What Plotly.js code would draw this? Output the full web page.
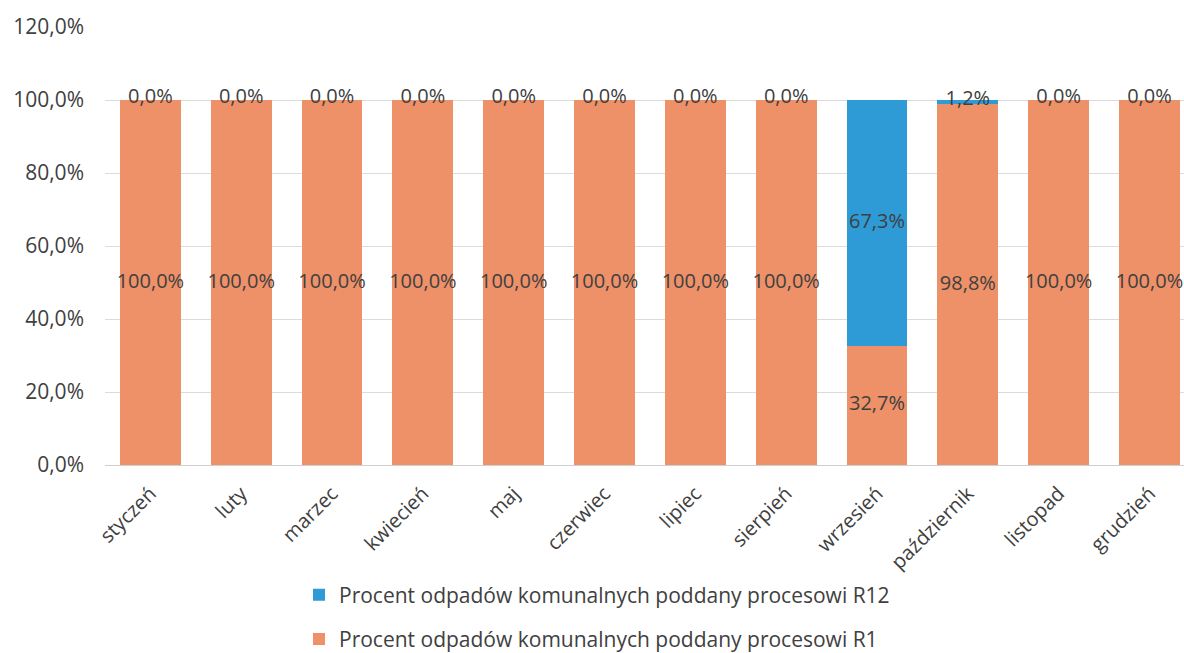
<!DOCTYPE html>
<html><head><meta charset="utf-8">
<script src="https://cdn.plot.ly/plotly-3.0.1.min.js"></script>
<style>html,body{margin:0;padding:0;background:#fff}</style>
</head><body>
<div id="chart" style="width:1184px;height:653px"></div>
<script>
const months = ["styczeń","luty","marzec","kwiecień","maj","czerwiec","lipiec","sierpień","wrzesień","październik","listopad","grudzień"];
const r1 = [100,100,100,100,100,100,100,100,32.7,98.8,100,100];
const r12 = [0,0,0,0,0,0,0,0,67.3,1.2,0,0];
const nameR12 = "Procent odpadów komunalnych poddany procesowi R12";
const nameR1 = "Procent odpadów komunalnych poddany procesowi R1";
const orange = "#EE9068", blue = "#2E9AD6";
const fmt = v => v.toFixed(1).replace(".", ",") + "%";
const fnt = "'Open Sans', 'Noto Sans', sans-serif";

const traces = [
  {type:"bar", x:months, y:r1, name:nameR1, marker:{color:orange}, legendgroup:"a", legendrank:2, hoverinfo:"none"},
  {type:"bar", x:months, y:r12, name:nameR12, marker:{color:blue}, legendgroup:"b", legendrank:1, hoverinfo:"none"},
  {type:"scatter", mode:"text", x:months, y:r1.map(v=>v/2), text:r1.map(fmt), showlegend:false,
   textfont:{size:20, color:"#404040", family:fnt}, hoverinfo:"none", cliponaxis:false},
  {type:"scatter", mode:"text", x:months, y:r1.map((v,i)=>v + r12[i]/2 + (r12[i] < 5 ? 0.6 : 0)), text:r12.map(fmt), showlegend:false,
   textfont:{size:20, color:"#404040", family:fnt}, hoverinfo:"none", cliponaxis:false}
];

const layout = {
  width:1184, height:653,
  margin:{l:105, r:0, t:27, b:188, autoexpand:false},
  barmode:"stack", bargap:0.33,
  separators:", ",
  paper_bgcolor:"#fff", plot_bgcolor:"#fff",
  font:{family:fnt, color:"#404040", size:20},
  xaxis:{tickangle:-45, range:[-0.5, 11.38], tickfont:{size:20, color:"#404040", family:fnt}, showline:true, linecolor:"#d0d0d0", ticks:"", automargin:false, ticklabelstandoff:8},
  yaxis:{range:[0,120], dtick:20, tickformat:".1f", ticksuffix:"%", gridcolor:"#dcdcdc", zeroline:false, automargin:false,
         tickfont:{size:21, color:"#404040", family:fnt}, ticklen:0, ticks:"", showline:false, ticklabelstandoff:20},
  legend:{orientation:"v", xanchor:"center", y:-0.25, yanchor:"top",
          traceorder:"grouped", tracegroupgap:14, font:{size:21, color:"#404040", family:fnt}, itemwidth:30},
  showlegend:true
};
layout.legend.x = (597 - 105) / 1079;
Plotly.newPlot("chart", traces, layout, {displayModeBar:false, staticPlot:true});
</script>
</body></html>
